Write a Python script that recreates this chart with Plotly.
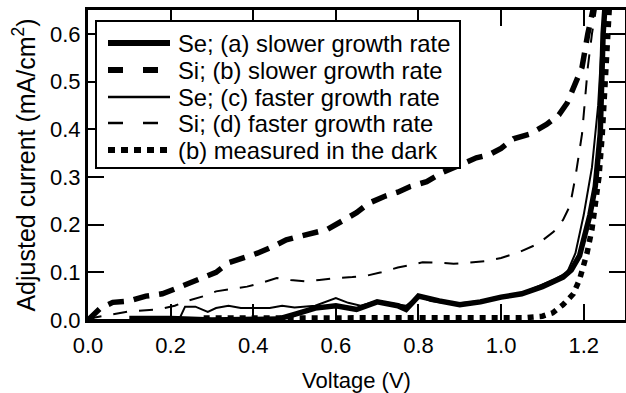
import plotly.graph_objects as go

# ---- data ----
v_se_slow = [0.10, 0.20, 0.30, 0.40, 0.46, 0.50, 0.55, 0.60, 0.65, 0.70, 0.75, 0.77, 0.80, 0.85,
             0.90, 0.95, 1.00, 1.05, 1.10, 1.15, 1.17, 1.19, 1.205, 1.215, 1.228, 1.24, 1.247, 1.255]
i_se_slow = [0.003, 0.003, 0.0, 0.0, 0.002, 0.012, 0.025, 0.03, 0.022, 0.038, 0.03, 0.022, 0.05, 0.04,
             0.032, 0.038, 0.048, 0.055, 0.07, 0.09, 0.105, 0.135, 0.18, 0.22, 0.28, 0.39, 0.6, 0.7]

v_si_slow = [0.0, 0.03, 0.06, 0.10, 0.14, 0.18, 0.21, 0.25, 0.28, 0.31, 0.34, 0.38, 0.41, 0.45,
             0.48, 0.51, 0.55, 0.58, 0.62, 0.65, 0.68, 0.72, 0.75, 0.78, 0.82, 0.86, 0.90, 0.94,
             0.97, 1.00, 1.03, 1.07, 1.11, 1.14, 1.16, 1.18, 1.196, 1.21, 1.22, 1.23]
i_si_slow = [0.0, 0.025, 0.037, 0.04, 0.05, 0.055, 0.065, 0.08, 0.09, 0.10, 0.12, 0.13, 0.14, 0.155,
             0.168, 0.175, 0.182, 0.19, 0.21, 0.225, 0.245, 0.26, 0.268, 0.28, 0.29, 0.31, 0.325, 0.34,
             0.346, 0.36, 0.38, 0.39, 0.41, 0.43, 0.455, 0.50, 0.53, 0.60, 0.64, 0.68]

v_se_fast = [0.0, 0.22, 0.235, 0.26, 0.29, 0.31, 0.34, 0.37, 0.40, 0.44, 0.47, 0.50, 0.55, 0.58,
             0.60, 0.63, 0.66, 0.70, 0.74, 0.77, 0.80, 0.83, 0.87, 0.90, 0.95, 1.00, 1.05, 1.10,
             1.13, 1.16, 1.18, 1.20, 1.22, 1.235, 1.245, 1.255]
i_se_fast = [0.0, 0.0, 0.028, 0.028, 0.017, 0.025, 0.03, 0.025, 0.025, 0.025, 0.03, 0.026, 0.03, 0.04,
             0.046, 0.036, 0.03, 0.04, 0.035, 0.03, 0.05, 0.04, 0.035, 0.035, 0.04, 0.05, 0.056, 0.075,
             0.085, 0.10, 0.14, 0.22, 0.32, 0.45, 0.60, 0.70]

v_si_fast = [0.0, 0.02, 0.06, 0.10, 0.17, 0.21, 0.24, 0.28, 0.31, 0.35, 0.385, 0.42, 0.457, 0.49,
             0.525, 0.56, 0.60, 0.64, 0.675, 0.71, 0.75, 0.78, 0.81, 0.85, 0.885, 0.92, 0.966, 1.0,
             1.046, 1.09, 1.127, 1.15, 1.167, 1.18, 1.196, 1.21, 1.22, 1.235]
i_si_fast = [0.0, 0.006, 0.012, 0.018, 0.022, 0.03, 0.04, 0.05, 0.06, 0.066, 0.07, 0.078, 0.088, 0.084,
             0.081, 0.084, 0.088, 0.09, 0.093, 0.10, 0.11, 0.115, 0.121, 0.12, 0.118, 0.12, 0.124, 0.13,
             0.143, 0.16, 0.185, 0.21, 0.24, 0.30, 0.39, 0.53, 0.60, 0.68]

v_dark = [0.28, 0.40, 0.60, 0.80, 1.00, 1.06, 1.10, 1.125, 1.15, 1.175, 1.19, 1.208, 1.22, 1.228,
          1.237, 1.245, 1.252, 1.258, 1.265]
i_dark = [0.004, 0.004, 0.004, 0.004, 0.004, 0.005, 0.008, 0.015, 0.032, 0.055, 0.085, 0.14, 0.19, 0.235,
          0.30, 0.39, 0.50, 0.60, 0.70]

labels = ["Se; (a) slower growth rate", "Si; (b) slower growth rate", "Se; (c) faster growth rate",
          "Si; (d) faster growth rate", "(b) measured in the dark"]

x_ticks = [0.0, 0.2, 0.4, 0.6, 0.8, 1.0, 1.2]
y_ticks = [0.0, 0.1, 0.2, 0.3, 0.4, 0.5, 0.6]

FONT = "Liberation Sans, Arial, Helvetica, sans-serif"

styles = [
    dict(width=5.5, dash="solid"),
    dict(width=5.5, dash="16px,10px"),
    dict(width=2, dash="solid"),
    dict(width=2, dash="14px,12px"),
    dict(width=5.5, dash="6px,6px"),
]
legend_dash = ["solid", "15px,20px", "solid", "15px,20px", "7px,6px"]

series = [(v_se_slow, i_se_slow), (v_si_slow, i_si_slow), (v_se_fast, i_se_fast),
          (v_si_fast, i_si_fast), (v_dark, i_dark)]

fig = go.Figure()
for (vx, iy), st, name in zip(series, styles, labels):
    fig.add_trace(go.Scatter(x=vx, y=iy, mode="lines", name=name, showlegend=False,
                             line=dict(color="black", width=st["width"], dash=st["dash"])))

# plot area in pixels: x 88..625, y 10..320
def px(p):
    return (p - 88) / 537.0

def py(p):
    return (320 - p) / 310.0

shapes = [dict(type="rect", xref="paper", yref="paper", x0=px(96), x1=px(460), y0=py(168), y1=py(21),
               line=dict(color="black", width=2), fillcolor="white", layer="above")]
annotations = []
rows = [43, 70, 97, 123, 150]
for k, (lab, st, ld) in enumerate(zip(labels, styles, legend_dash)):
    yy = py(rows[k])
    shapes.append(dict(type="line", xref="paper", yref="paper", x0=px(108), x1=px(170), y0=yy, y1=yy,
                       line=dict(color="black", width=st["width"] + 0.5, dash=ld),
                       layer="above"))
    annotations.append(dict(xref="paper", yref="paper", x=px(176), y=yy, text=lab, showarrow=False,
                            xanchor="left", yanchor="middle", font=dict(family=FONT, size=23.8, color="black")))

fig.update_layout(
    width=626, height=393,
    margin=dict(l=88, r=1, t=10, b=73, autoexpand=False),
    paper_bgcolor="white", plot_bgcolor="white",
    font=dict(family=FONT, size=22, color="black"),
    shapes=shapes, annotations=annotations,
    xaxis=dict(range=[0, 1.3], tickvals=x_ticks, ticktext=[f"{t:.1f}" for t in x_ticks],
               ticks="inside", ticklen=16, tickwidth=2, tickcolor="black",
               showline=True, linewidth=3, linecolor="black", mirror="ticks",
               showgrid=False, zeroline=False, automargin=False, ticklabelstandoff=4,
               title=dict(text="Voltage (V)", standoff=16, font=dict(size=22))),
    yaxis=dict(range=[0, 0.65], tickvals=y_ticks, ticktext=[f"{t:.1f}" for t in y_ticks],
               ticks="inside", ticklen=16, tickwidth=2, tickcolor="black",
               showline=True, linewidth=3, linecolor="black", mirror="ticks",
               showgrid=False, zeroline=False, automargin=False,
               title=dict(text="Adjusted current (mA/cm<sup>2</sup>)", standoff=8, font=dict(size=25))),
)

fig.write_html("out.html", config={"displayModeBar": False},
               post_script="document.body.style.margin='0px';document.body.style.overflow='hidden';")
